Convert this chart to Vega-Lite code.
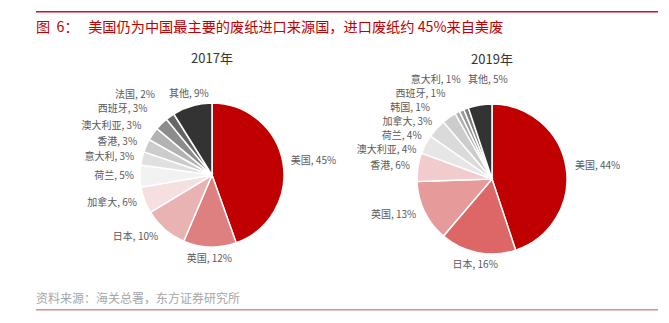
{
  "$schema": "https://vega.github.io/schema/vega-lite/v6.json",
  "background": "white",
  "padding": {"left": 36, "top": 11, "right": 5, "bottom": 0},
  "config": {
    "view": {"stroke": null},
    "font": "Noto Sans CJK SC",
    "title": {"font": "Noto Sans CJK SC", "fontWeight": "normal"}
  },
  "datasets": {
    "y2017": [
      {"country": "美国", "value": 45, "rank": 1},
      {"country": "英国", "value": 12, "rank": 2},
      {"country": "日本", "value": 10, "rank": 3},
      {"country": "加拿大", "value": 6, "rank": 4},
      {"country": "荷兰", "value": 5, "rank": 5},
      {"country": "意大利", "value": 3, "rank": 6},
      {"country": "香港", "value": 3, "rank": 7},
      {"country": "澳大利亚", "value": 3, "rank": 8},
      {"country": "西班牙", "value": 3, "rank": 9},
      {"country": "法国", "value": 2, "rank": 10},
      {"country": "其他", "value": 9, "rank": 11}
    ],
    "y2019": [
      {"country": "美国", "value": 44, "rank": 1},
      {"country": "日本", "value": 16, "rank": 2},
      {"country": "英国", "value": 13, "rank": 3},
      {"country": "香港", "value": 6, "rank": 4},
      {"country": "澳大利亚", "value": 4, "rank": 5},
      {"country": "荷兰", "value": 4, "rank": 6},
      {"country": "加拿大", "value": 3, "rank": 7},
      {"country": "韩国", "value": 1, "rank": 8},
      {"country": "西班牙", "value": 1, "rank": 9},
      {"country": "意大利", "value": 1, "rank": 10},
      {"country": "其他", "value": 5, "rank": 11}
    ]
  },
  "spacing": 22,
  "vconcat": [
    {
      "spacing": 18,
      "vconcat": [
        {
          "width": 622,
          "height": 1.5,
          "view": {"fill": "#C8102E", "stroke": null},
          "title": {
            "text": "图\u00a0\u00a06：\u00a0\u00a0\u00a0美国仍为中国最主要的废纸进口来源国，进口废纸约 45%来自美废",
            "orient": "bottom",
            "anchor": "start",
            "frame": "group",
            "offset": 8,
            "fontSize": 14.2,
            "color": "#C00000"
          },
          "data": {"values": [{}]},
          "mark": {"type": "point", "opacity": 0, "size": 0, "strokeWidth": 0}
        },
        {
          "bounds": "flush",
          "spacing": 0,
          "resolve": {"scale": {"color": "independent", "theta": "independent"}},
          "hconcat": [
            {
              "width": 352,
              "height": 174,
              "title": {"text": "2017年", "fontSize": 13, "color": "#333333", "offset": 22, "frame": "group"},
              "data": {"name": "y2017"},
              "transform": [{"calculate": "datum.country + ', ' + datum.value + '%'", "as": "label"}],
              "encoding": {
                "theta": {"field": "value", "type": "quantitative", "stack": true},
                "order": {"field": "rank", "type": "quantitative"},
                "detail": {"field": "country", "type": "nominal"}
              },
              "layer": [
                {
                  "mark": {"type": "arc", "outerRadius": 72, "stroke": "white", "strokeWidth": 1.5},
                  "encoding": {
                    "color": {
                      "field": "country", "type": "nominal", "legend": null,
                      "scale": {
                        "domain": ["美国", "英国", "日本", "加拿大", "荷兰", "意大利", "香港", "澳大利亚", "西班牙", "法国", "其他"],
                        "range": ["#C00000", "#DF8080", "#EAB3B3", "#F6DFDF", "#F2F2F2", "#E0E0E0", "#CCCCCC", "#B3B3B3", "#8C8C8C", "#666666", "#333333"]
                      }
                    }
                  }
                },
                {
                  "mark": {
                    "type": "text",
                    "fontSize": 10,
                    "color": "#595959",
                    "baseline": "middle",
                    "radius": {"expr": "[80,84,82,80,78,80,82,86,92,98,84][datum.rank - 1]"},
                    "align": {"expr": "datum.rank == 1 ? 'left' : (datum.rank == 2 || datum.rank == 11) ? 'center' : 'right'"}
                  },
                  "encoding": {"text": {"field": "label", "type": "nominal"}}
                }
              ]
            },
            {
              "width": 208,
              "height": 182,
              "title": {"text": "2019年", "fontSize": 13, "color": "#333333", "offset": 8, "frame": "group"},
              "data": {"name": "y2019"},
              "transform": [{"calculate": "datum.country + ', ' + datum.value + '%'", "as": "label"}],
              "encoding": {
                "theta": {"field": "value", "type": "quantitative", "stack": true},
                "order": {"field": "rank", "type": "quantitative"},
                "detail": {"field": "country", "type": "nominal"}
              },
              "layer": [
                {
                  "mark": {"type": "arc", "outerRadius": 75, "stroke": "white", "strokeWidth": 1.5},
                  "encoding": {
                    "color": {
                      "field": "country", "type": "nominal", "legend": null,
                      "scale": {
                        "domain": ["美国", "日本", "英国", "香港", "澳大利亚", "荷兰", "加拿大", "韩国", "西班牙", "意大利", "其他"],
                        "range": ["#C00000", "#DD6666", "#E69A9A", "#F2CCCC", "#E6E6E6", "#DADADA", "#CCCCCC", "#B0B0B0", "#999999", "#7F7F7F", "#333333"]
                      }
                    }
                  }
                },
                {
                  "mark": {
                    "type": "text",
                    "fontSize": 10,
                    "color": "#595959",
                    "baseline": "middle",
                    "radius": {"expr": "[84,88,84,83,62.6,64,69.6,80.1,93,105.4,100.2][datum.rank - 1]"},
                    "dx": {"expr": "[0,0,0,0,-20,-23,-20,-25,-9,5,-8][datum.rank - 1]"},
                    "align": {"expr": "(datum.rank == 1 || datum.rank == 11) ? 'left' : datum.rank == 2 ? 'center' : 'right'"}
                  },
                  "encoding": {"text": {"field": "label", "type": "nominal"}}
                }
              ]
            }
          ]
        }
      ]
    },
    {
      "width": 622,
      "height": 1.5,
      "view": {"fill": "#E08A8A", "stroke": null},
      "title": {
        "text": "资料来源：海关总署，东方证券研究所",
        "anchor": "start",
        "frame": "group",
        "offset": 3,
        "fontSize": 12,
        "color": "#A6A6A6"
      },
      "data": {"values": [{}]},
      "mark": {"type": "point", "opacity": 0, "size": 0, "strokeWidth": 0}
    }
  ]
}
